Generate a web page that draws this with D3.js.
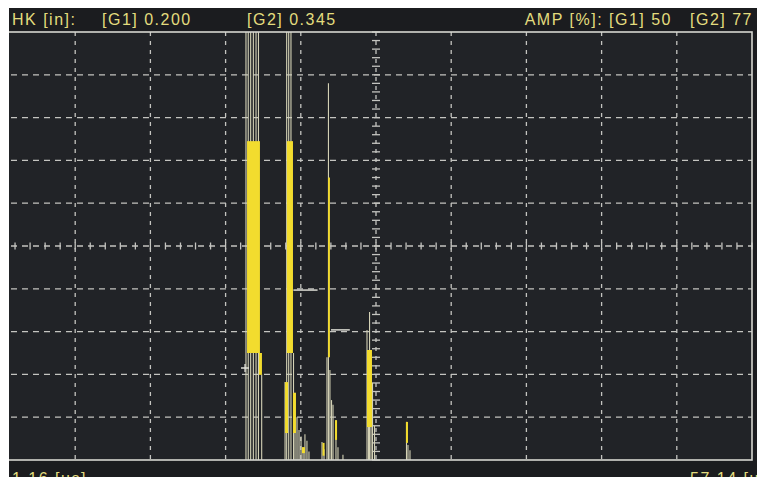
<!DOCTYPE html>
<html>
<head>
<meta charset="utf-8">
<script src="https://cdn.jsdelivr.net/npm/d3@7"></script>
<style>
    body { margin: 0; background: #fff; }
    svg { display: block; }
</style>
</head>
<body>
<div id="scope"></div>
<script>
// readouts
const headerLeft = ["HK [in]:", "[G1] 0.200", "[G2] 0.345"];
const headerRight = ["AMP [%]: [G1] 50", "[G2] 77"];
const rangeLabels = ["1.16 [us]", "57.14 [us]"];

// screen range: time (us) and amplitude (%)
const timeRange = [1.16, 57.14];
const ampRange = [0, 100];
const divisions = 10;
const subDivisions = 5;

// A-scan spikes, time (us) and peak amplitude (%), above 100 = saturated
const spikeTime = [19.47, 19.64, 19.82, 20.02, 20.22, 20.40, 20.64,
    22.38, 22.50, 22.65, 22.82, 23.01, 23.12, 23.27, 23.42, 23.57, 23.72, 23.86, 24.01, 24.16,
    25.13, 25.28, 25.50, 25.61, 25.72, 25.84, 25.95, 26.17, 26.32, 26.69,
    28.48, 28.59, 28.67, 28.78, 28.89, 29.04,
    31.42, 31.53, 31.68];
const spikeAmp = [110, 110, 110, 110, 110, 110, 20,
    18.2, 110, 110, 110, 25, 15.7, 10, 7, 5.5, 3, 6, 4.5, 2,
    4.2, 2.5, 24, 88, 21, 14, 12.9, 9.3, 3, 1.2,
    30.4, 25, 34.6, 22, 18, 8,
    8.9, 3.5, 2.3];

// dense (yellow) parts of the trace
const bandStart = [19.55, 20.44, 22.52, 22.38, 22.97, 23.64, 25.58, 26.10, 28.48, 31.38, 25.17];
const bandEnd   = [20.51, 20.66, 22.97, 22.60, 23.19, 23.86, 25.72, 26.25, 28.85, 31.53, 25.32];
const bandLow   = [25.0, 19.9, 25.0, 6.3, 6.3, 1.6, 24.0, 4.7, 7.7, 4.0, 1.0];
const bandHigh  = [74.5, 25.0, 74.5, 18.2, 15.7, 3.0, 66.0, 9.3, 25.7, 8.9, 4.0];

// gates
const gateStart = [23.00, 25.80];
const gateEnd   = [24.80, 27.20];
const gateLevel = [39.7, 30.4];

// cursor mark
const cursorTime = [19.40];
const cursorAmp  = [21.5];

const W = 757, H = 477;
const plot = { left: 0, right: 752, top: 32, bottom: 460 };

const svg = d3.select("#scope")
    .append("svg")
    .attr("width", W)
    .attr("height", H);

svg.append("rect")
    .attr("x", 0).attr("y", 0)
    .attr("width", W).attr("height", H)
    .attr("fill", "#1b1c1f");

let x = d3.scaleLinear().domain(timeRange).range([plot.left, plot.right]);
let y = d3.scaleLinear().domain(ampRange).range([plot.bottom, plot.top]);

// plot area
svg.append("rect")
    .attr("x", plot.left).attr("y", plot.top)
    .attr("width", plot.right - plot.left)
    .attr("height", plot.bottom - plot.top)
    .attr("fill", "#212327");

// grid
const tStep = (timeRange[1] - timeRange[0]) / divisions;
const aStep = (ampRange[1] - ampRange[0]) / divisions;
const gridT = d3.range(1, divisions).map(i => timeRange[0] + i * tStep);
const gridA = d3.range(1, divisions).map(i => ampRange[0] + i * aStep);

let grid = svg.append("g")
    .attr("stroke", "#c4c4c0")
    .attr("stroke-width", 1.3);

grid.selectAll(".vgrid")
    .data(gridT)
    .enter()
    .append("line")
    .attr("x1", d => x(d)).attr("x2", d => x(d))
    .attr("y1", plot.top).attr("y2", plot.bottom)
    .attr("stroke-dasharray", "4,5");

grid.selectAll(".hgrid")
    .data(gridA)
    .enter()
    .append("line")
    .attr("x1", plot.left).attr("x2", plot.right)
    .attr("y1", d => y(d)).attr("y2", d => y(d))
    .attr("stroke-dasharray", "6,5");

// small ticks on the centre lines
const midT = timeRange[0] + 5 * tStep;
const midA = ampRange[0] + 5 * aStep;
const subT = d3.range(0, divisions * subDivisions + 1).map(i => timeRange[0] + i * tStep / subDivisions);
const subA = d3.range(0, divisions * subDivisions + 1).map(i => ampRange[0] + i * aStep / subDivisions);

grid.selectAll(".tickT")
    .data(subT)
    .enter()
    .append("line")
    .attr("x1", d => x(d)).attr("x2", d => x(d))
    .attr("y1", y(midA) - 3.5).attr("y2", y(midA) + 3.5);

grid.selectAll(".tickA")
    .data(subA)
    .enter()
    .append("line")
    .attr("x1", x(midT) - 4).attr("x2", x(midT) + 4)
    .attr("y1", d => y(d)).attr("y2", d => y(d));

// trace
let trace = svg.append("g");

trace.selectAll(".spike")
    .data(spikeTime)
    .enter()
    .append("line")
    .attr("x1", d => x(d)).attr("x2", d => x(d))
    .attr("y1", y(0))
    .attr("y2", (d, i) => Math.max(plot.top, y(spikeAmp[i])))
    .attr("stroke", "#d4d2b6")
    .attr("stroke-width", 1.1);

trace.selectAll(".band")
    .data(bandStart)
    .enter()
    .append("rect")
    .attr("x", d => x(d))
    .attr("width", (d, i) => Math.max(1.5, x(bandEnd[i]) - x(d)))
    .attr("y", (d, i) => y(bandHigh[i]))
    .attr("height", (d, i) => y(bandLow[i]) - y(bandHigh[i]))
    .attr("fill", "#f2dc2e");

// gates
svg.selectAll(".gate")
    .data(gateStart)
    .enter()
    .append("line")
    .attr("x1", d => x(d))
    .attr("x2", (d, i) => x(gateEnd[i]))
    .attr("y1", (d, i) => y(gateLevel[i]))
    .attr("y2", (d, i) => y(gateLevel[i]))
    .attr("stroke", "#d8d8d0")
    .attr("stroke-width", 1.5);

// cursor
svg.selectAll(".cursor")
    .data(cursorTime)
    .enter()
    .append("path")
    .attr("d", (d, i) => {
        let cx = x(d), cy = y(cursorAmp[i]);
        return `M${cx - 4},${cy}H${cx + 4}M${cx},${cy - 4}V${cy + 4}`;
    })
    .attr("stroke", "#e0e0d8")
    .attr("stroke-width", 1.3);

// border
svg.append("rect")
    .attr("x", plot.left).attr("y", plot.top)
    .attr("width", plot.right - plot.left)
    .attr("height", plot.bottom - plot.top)
    .attr("fill", "none")
    .attr("stroke", "#d6d6d0")
    .attr("stroke-width", 1.6);

// texts
let textStyle = sel => sel
    .attr("font-family", "'Liberation Sans', Arial, sans-serif")
    .attr("font-size", "16px")
    .attr("letter-spacing", "1.5px")
    .attr("fill", "#e3dc7e");

const headerLeftX = [12, 102, 247];
svg.selectAll(".hl")
    .data(headerLeft)
    .enter()
    .append("text")
    .attr("x", (d, i) => headerLeftX[i])
    .attr("y", 25)
    .text(d => d)
    .call(textStyle);

const headerRightX = [672, 753];
svg.selectAll(".hr")
    .data(headerRight)
    .enter()
    .append("text")
    .attr("x", (d, i) => headerRightX[i])
    .attr("y", 25)
    .attr("text-anchor", "end")
    .text(d => d)
    .call(textStyle);

const rangeX = [12, 690];
svg.selectAll(".rl")
    .data(rangeLabels)
    .enter()
    .append("text")
    .attr("x", (d, i) => rangeX[i])
    .attr("y", 484)
    .text(d => d)
    .call(textStyle);

// scan margins
svg.append("rect").attr("x", 0).attr("y", 0).attr("width", 9).attr("height", H).attr("fill", "#fff");
svg.append("rect").attr("x", 0).attr("y", 0).attr("width", W).attr("height", 8).attr("fill", "#fff");
</script>
</body>
</html>
